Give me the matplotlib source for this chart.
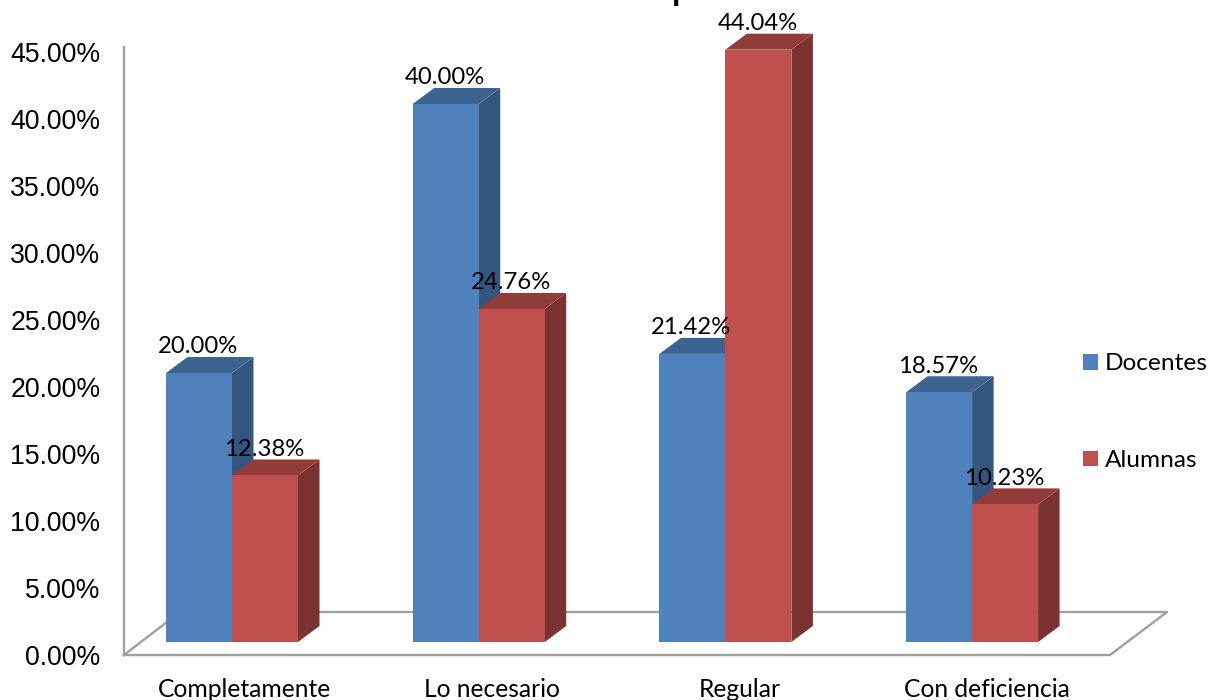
#!/usr/bin/env python3
import matplotlib
matplotlib.use("Agg")
import matplotlib.pyplot as plt
from matplotlib.lines import Line2D
from matplotlib.patches import Patch, Polygon

W, H = 1209, 700

categories = ["Completamente", "Lo necesario", "Regular", "Con deficiencia"]
docentes = [20.00, 40.00, 21.42, 18.57]
alumnas = [12.38, 24.76, 44.04, 10.23]
y_ticks = [0, 5, 10, 15, 20, 25, 30, 35, 40, 45]

BLUE, BLUE_SIDE, BLUE_TOP = "#4F81BD", "#34557E", "#3D6491"
RED, RED_SIDE, RED_TOP = "#C0504D", "#7A3331", "#923C3A"
GRAY = "#A0A0A0"
NUM_FONT = "Liberation Sans"
LABEL_FONT = "Lato"

PX_PER_CAT = 246.7
PX_PER_PCT = 13.45
BAR_W = 66.0 / PX_PER_CAT
DX = 21.5 / PX_PER_CAT
DY = 16.0 / PX_PER_PCT


def fx(px):
    return px / W


def fy(px):
    return 1 - px / H


def box_3d(ax, x0, v, color, side, top, z):
    # front face goes through bar(), side and top are offset polygons
    x1 = x0 + BAR_W
    ax.add_patch(Polygon([(x1, 0), (x1 + DX, DY), (x1 + DX, v + DY), (x1, v)],
                         facecolor=side, edgecolor="none", zorder=z))
    ax.add_patch(Polygon([(x0, v), (x0 + DX, v + DY), (x1 + DX, v + DY), (x1, v)],
                         facecolor=top, edgecolor="none", zorder=z))
    ax.bar(x0, v, BAR_W, align="edge", color=color, edgecolor="none", zorder=z + 0.5)


fig = plt.figure(figsize=(W / 100, H / 100), dpi=100, facecolor="white")

# floor of the 3D box, behind everything
floor = [(124, 655), (1110, 655), (1167, 612), (180, 612), (124, 655)]
fig.add_artist(Line2D([fx(p[0]) for p in floor], [fy(p[1]) for p in floor],
                      transform=fig.transFigure, color=GRAY, lw=1.7, zorder=-1))

# back wall axis with the percent scale
wall = fig.add_axes([fx(124), fy(655), fx(1110 - 124), (655 - 47) / H])
wall.patch.set_visible(False)
wall.set_ylim(0, (655 - 47) / 13.4)
wall.set_xticks([])
wall.set_yticks(y_ticks)
wall.set_yticklabels([f"{t:.2f}%" for t in y_ticks], fontsize=19.2, family=NUM_FONT)
wall.tick_params(axis="y", length=0, pad=17)
for s in ("top", "right", "bottom"):
    wall.spines[s].set_visible(False)
wall.spines["left"].set_color(GRAY)
wall.spines["left"].set_linewidth(1.7)

# bars, y=0 sits on the front edge of the floor
ax = fig.add_axes([0, fy(642), 1, 642 / H])
ax.patch.set_visible(False)
ax.set_xlim(-232 / PX_PER_CAT, (W - 232) / PX_PER_CAT)
ax.set_ylim(0, 642 / PX_PER_PCT)
for s in ax.spines.values():
    s.set_visible(False)
ax.set_yticks([])
ax.set_xticks([i * 247.5 / PX_PER_CAT + 12.5 / PX_PER_CAT for i in range(len(categories))])
ax.set_xticklabels(categories, fontsize=17.7, family=LABEL_FONT, color="black")
ax.tick_params(axis="x", length=0, pad=26)

for i, (d, a) in enumerate(zip(docentes, alumnas)):
    box_3d(ax, i - BAR_W, d, BLUE, BLUE_SIDE, BLUE_TOP, 2)
    box_3d(ax, i, a, RED, RED_SIDE, RED_TOP, 3)

for i, (d, a) in enumerate(zip(docentes, alumnas)):
    for x, v in ((i - BAR_W / 2, d), (i + BAR_W / 2, a)):
        ax.text(x - 1 / PX_PER_CAT, v + 1.95, f"{v:.2f}%", ha="center", va="center",
                fontsize=17.2, family=LABEL_FONT, color="black", zorder=6, clip_on=False)

handles = [Patch(facecolor=BLUE, label="Docentes"), Patch(facecolor=RED, label="Alumnas")]
fig.legend(handles=handles, loc="upper left", bbox_to_anchor=(fx(1076), fy(346)),
           frameon=False, prop={"family": LABEL_FONT, "size": 17.6},
           handlelength=0.62, handleheight=0.62, handletextpad=0.25,
           labelspacing=3.1, borderpad=0.3, borderaxespad=0)

# chart title runs off the top edge, only a descender is left
fig.text(fx(672), fy(-1), "p", fontsize=22, fontweight="bold", family=NUM_FONT,
         ha="left", va="baseline", color="black")

fig.savefig("out.png", dpi=100)
